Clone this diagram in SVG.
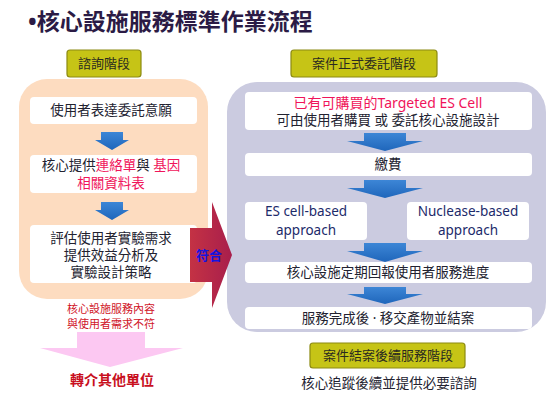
<svg xmlns="http://www.w3.org/2000/svg" width="554" height="401" viewBox="0 0 554 401">
<defs>
<style>
text{font-family:"Noto Sans","Noto Sans CJK TC",sans-serif;}
.t{font-size:13.5px;fill:#222230;text-anchor:middle;}
.pk{fill:#f0145a;}
.en{font-size:13.5px;fill:#1c2a6a;text-anchor:middle;}
.lbl{fill:#c6c416;stroke:#8c8a12;stroke-width:1.2;}
.lt{font-size:13px;fill:#2a2a20;text-anchor:middle;}
.wb{fill:#ffffff;}
.ba{fill:url(#blue);}
</style>
<linearGradient id="blue" x1="0" y1="0" x2="0" y2="1">
<stop offset="0" stop-color="#3d86d6"/>
<stop offset="1" stop-color="#1f66bb"/>
</linearGradient>
<linearGradient id="red" x1="0" y1="0" x2="1" y2="0">
<stop offset="0" stop-color="#c43244"/>
<stop offset="1" stop-color="#a81e4c"/>
</linearGradient>
</defs>
<rect width="554" height="401" fill="#ffffff"/>
<text x="28" y="30" font-size="23" font-weight="bold" fill="#2b1b45">•核心設施服務標準作業流程</text>

<g id="left-phase">
<rect class="lbl" x="67" y="50" width="74" height="27" rx="3"/>
<text class="lt" x="104" y="68">諮詢階段</text>
<rect x="19" y="79" width="189" height="220" rx="28" fill="#fddcc0"/>
</g>

<g id="n1">
<rect class="wb" x="30" y="97" width="167" height="27" rx="4"/>
<text class="t" x="111" y="115">使用者表達委託意願</text>
</g>
<g id="n2">
<rect class="wb" x="30" y="155" width="167" height="38" rx="4"/>
<text class="t" x="111" y="170">核心提供<tspan class="pk">連絡單</tspan>與 <tspan class="pk">基因</tspan></text>
<text class="t pk" x="111" y="188">相關資料表</text>
</g>
<g id="n3">
<rect class="wb" x="30" y="225" width="167" height="58" rx="4"/>
<text class="t" x="111" y="243">評估使用者實驗需求</text>
<text class="t" x="111" y="260">提供效益分析及</text>
<text class="t" x="111" y="277">實驗設計策略</text>
</g>
<g id="reject">
<text x="111" y="313" font-size="11" fill="#d01428" text-anchor="middle">核心設施服務內容</text>
<text x="111" y="328" font-size="11" fill="#d01428" text-anchor="middle">與使用者需求不符</text>
</g>
<g id="refer">
<text x="112" y="385" font-size="14" font-weight="bold" fill="#c8101e" text-anchor="middle">轉介其他單位</text>
</g>

<g id="right-phase">
<rect class="lbl" x="291" y="50" width="146" height="27" rx="3"/>
<text class="lt" x="364" y="68">案件正式委託階段</text>
<rect x="227" y="82" width="319" height="250" rx="30" fill="#cbcbe0"/>
</g>
<g id="r1">
<rect class="wb" x="245" y="92" width="287" height="38" rx="4"/>
<text x="388" y="108" font-size="14" fill="#f0145a" text-anchor="middle">已有可購買的Targeted ES Cell</text>
<text class="t" x="388" y="125">可由使用者購買 或 委託核心設施設計</text>
</g>
<g id="r2">
<rect class="wb" x="245" y="153" width="287" height="23" rx="4"/>
<text class="t" x="388" y="169">繳費</text>
</g>
<g id="r3a">
<rect class="wb" x="245" y="202" width="122" height="38" rx="4"/>
<text class="en" x="306" y="216">ES cell-based</text>
<text class="en" x="306" y="235">approach</text>
</g>
<g id="r3b">
<rect class="wb" x="407" y="202" width="122" height="38" rx="4"/>
<text class="en" x="468" y="216">Nuclease-based</text>
<text class="en" x="468" y="235">approach</text>
</g>
<g id="r4">
<rect class="wb" x="245" y="262" width="287" height="21" rx="4"/>
<text class="t" x="388" y="277">核心設施定期回報使用者服務進度</text>
</g>
<g id="r5">
<rect class="wb" x="245" y="307" width="287" height="22" rx="4"/>
<text class="t" x="388" y="323">服務完成後 · 移交產物並結案</text>
</g>
<g id="after-phase">
<rect class="lbl" x="310" y="343" width="155" height="25" rx="3"/>
<text class="lt" x="388" y="360">案件結案後續服務階段</text>
<text class="t" x="389" y="388">核心追蹤後續並提供必要諮詢</text>
</g>

<g id="connectors">
<path class="ba" d="M101,132 H123 V140 H129 L112,150 L95,140 H101 Z"/>
<path class="ba" d="M101,202 H123 V210 H129 L112,220 L95,210 H101 Z"/>
<path class="ba" d="M364,133 H406 V141 H423 L385,151 L347,141 H364 Z"/>
<path class="ba" d="M364,180 H406 V188 H423 L385,198 L347,188 H364 Z"/>
<path class="ba" d="M364,243 H406 V251 H423 L385,262 L347,251 H364 Z"/>
<path class="ba" d="M364,287 H406 V294 H423 L385,304 L347,294 H364 Z"/>
<path d="M190,228 H212 V202 L232,255 L212,308 V282 H190 Z" fill="url(#red)"/>
<text x="209" y="260" font-size="13" font-weight="bold" fill="#1414e0" text-anchor="middle">符合</text>
<path d="M77,332 H145 V348 H183 L110,367 L40,348 H77 Z" fill="#fcc8f2"/>
</g>
</svg>
